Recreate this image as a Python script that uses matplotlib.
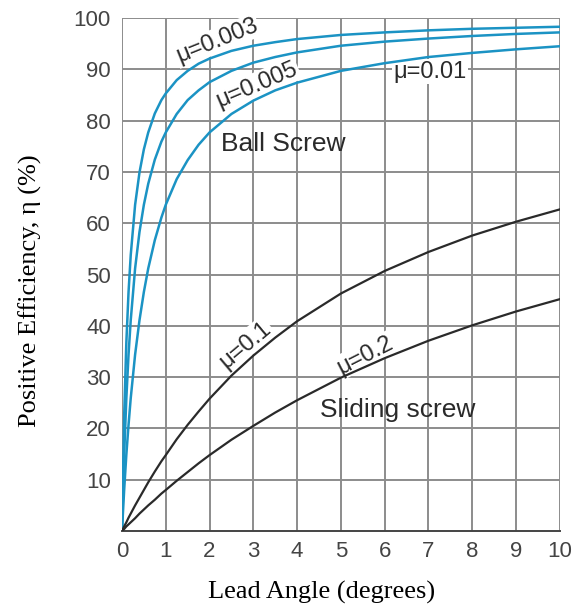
import matplotlib.pyplot as plt

# lead angle in degrees
lead_angle = [0, 0.05, 0.1, 0.15, 0.2, 0.3, 0.4, 0.5, 0.6, 0.75, 0.9, 1,
              1.25, 1.5, 1.75, 2, 2.5, 3, 3.5, 4, 5, 6, 7, 8, 9, 10]

# positive efficiency (%) for each friction coefficient
eff_mu_0003 = [0, 22.5, 36.8, 46.6, 53.8, 63.6, 69.9, 74.4, 77.7, 81.4, 84.0,
               85.3, 87.9, 89.7, 91.1, 92.1, 93.6, 94.6, 95.3, 95.9, 96.7,
               97.2, 97.6, 97.9, 98.1, 98.3]
eff_mu_0005 = [0, 14.9, 25.9, 34.4, 41.1, 51.2, 58.3, 63.6, 67.7, 72.4, 75.9,
               77.7, 81.3, 84.0, 85.9, 87.5, 89.7, 91.3, 92.4, 93.3, 94.6,
               95.4, 96.0, 96.5, 96.9, 97.2]
eff_mu_001 = [0, 8.0, 14.9, 20.7, 25.9, 34.4, 41.1, 46.6, 51.2, 56.7, 61.1,
              63.6, 68.6, 72.3, 75.3, 77.7, 81.3, 83.9, 85.9, 87.4, 89.7,
              91.2, 92.4, 93.2, 93.9, 94.5]
eff_mu_01 = [0, 0.9, 1.7, 2.6, 3.4, 5.0, 6.5, 8.0, 9.5, 11.6, 13.6,
             14.8, 17.9, 20.7, 23.3, 25.8, 30.3, 34.2, 37.7, 40.9, 46.3,
             50.7, 54.4, 57.6, 60.3, 62.7]
eff_mu_02 = [0, 0.4, 0.9, 1.3, 1.7, 2.5, 3.4, 4.2, 5.0, 6.1, 7.3,
             8.0, 9.8, 11.5, 13.2, 14.8, 17.8, 20.5, 23.1, 25.5, 29.9,
             33.7, 37.1, 40.1, 42.8, 45.2]

x_ticks = list(range(0, 11))
y_ticks = list(range(10, 101, 10))

BLUE = "#1b93c4"
DARK = "#2a2a2a"
GRID = "#8c8c8c"
TICK = "#444444"

fig = plt.figure(figsize=(5.85, 6.09), dpi=100)
ax = fig.add_axes([0.2085, 0.128, 0.7485, 0.8424])

for x in x_ticks:
    ax.axvline(x, color=GRID, linewidth=1.4, zorder=1)
for y in y_ticks:
    ax.axhline(y, color=GRID, linewidth=1.4, zorder=1)

for eff in (eff_mu_0003, eff_mu_0005, eff_mu_001):
    ax.plot(lead_angle, eff, color=BLUE, linewidth=1.8, zorder=3)
for eff in (eff_mu_01, eff_mu_02):
    ax.plot(lead_angle, eff, color=DARK, linewidth=1.6, zorder=3)

ax.set_xlim(0, 10)
ax.set_ylim(0, 100)
for side in ("top", "right", "left"):
    ax.spines[side].set_visible(False)
ax.spines["bottom"].set_color(TICK)
ax.spines["bottom"].set_linewidth(1.4)

ax.set_xticks(x_ticks)
ax.set_yticks(y_ticks)
ax.tick_params(length=0, labelsize=16, labelcolor=TICK)
ax.tick_params(axis="y", pad=8)
ax.tick_params(axis="x", pad=7)
for lbl in ax.get_xticklabels() + ax.get_yticklabels():
    lbl.set_family("Liberation Sans")

# labels sit between the grid and the curves: the white box breaks grid lines only
mu_lab = dict(family="Liberation Sans", color=DARK, fontsize=17, ha="center",
              va="center", zorder=2,
              bbox=dict(facecolor="white", edgecolor="none", pad=1))
name_lab = dict(family="Liberation Sans", color=DARK, fontsize=19,
                ha="center", va="center", zorder=2)

ax.text(2.17, 95.6, "\u03bc=0.003", rotation=22, **mu_lab)
ax.text(3.08, 87.0, "\u03bc=0.005", rotation=23, **mu_lab)
ax.text(7.03, 89.5, "\u03bc=0.01", **mu_lab)
ax.text(2.81, 36.3, "\u03bc=0.1", rotation=40, **mu_lab)
ax.text(5.55, 34.3, "\u03bc=0.2", rotation=27, **mu_lab)
ax.text(3.68, 75.4, "Ball Screw", **name_lab)
ax.text(6.30, 23.6, "Sliding screw", **name_lab)

serif = dict(family="Liberation Serif", fontsize=19, color="black")
fig.text(322 / 585, 1 - 592 / 609, "Lead Angle (degrees)", ha="center",
         va="center", **serif)
fig.text(30 / 585, 1 - 291 / 609, "Positive Efficiency, \u03b7 (%)",
         rotation=90, ha="center", va="center", **serif)

fig.savefig("out.png", dpi=100)
